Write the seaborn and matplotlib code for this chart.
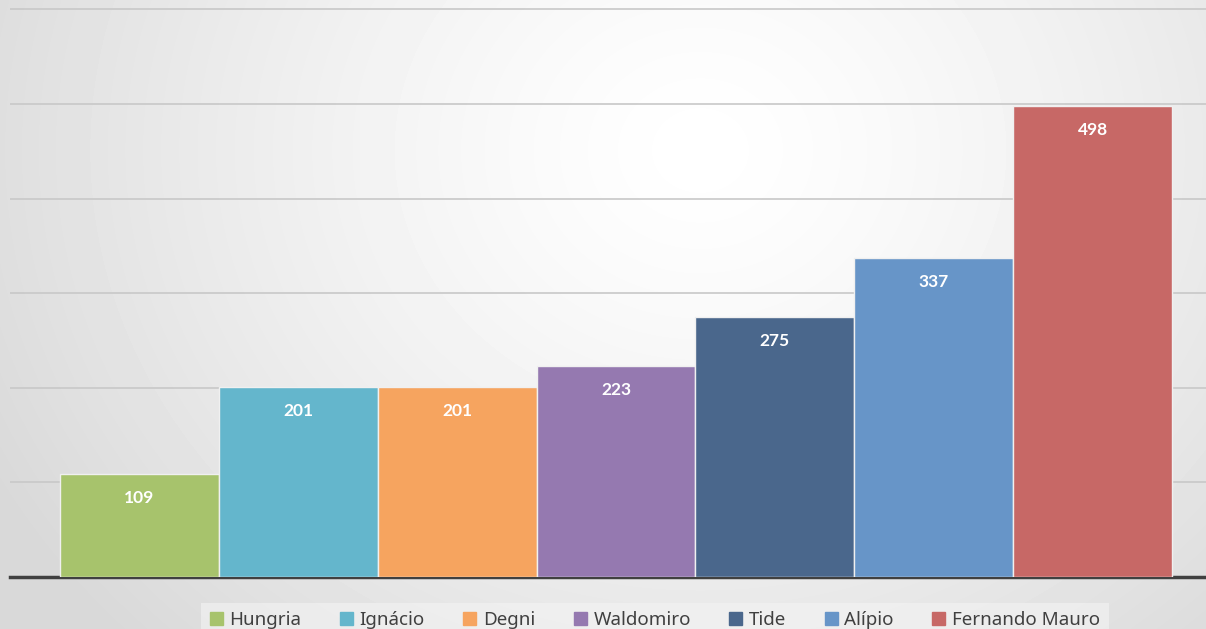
import numpy as np
import pandas as pd
import matplotlib
matplotlib.use("Agg")
import matplotlib.pyplot as plt
import seaborn as sns

names = ["Hungria", "Ignácio", "Degni", "Waldomiro", "Tide", "Alípio", "Fernando Mauro"]
values = [109, 201, 201, 223, 275, 337, 498]
colors = ["#A7C36C", "#64B6CC", "#F6A45F", "#9579B0", "#4A678C", "#6795C8", "#C76866"]

df = pd.DataFrame({"name": names, "value": values})

sns.set_style("white")
plt.rcParams["font.family"] = ["Noto Sans", "DejaVu Sans"]

fig = plt.figure(figsize=(12.06, 6.29), dpi=100)

# soft radial background gradient
bg = fig.add_axes([0, 0, 1, 1], zorder=-10)
yy, xx = np.mgrid[0:629, 0:1206]
r = np.sqrt(((xx - 700) / 800.0) ** 2 + ((yy - 150) / 700.0) ** 2)
shade = np.clip(1.0 - 0.15 * r ** 1.3, 0.85, 1.0)
bg.imshow(shade, cmap="gray", vmin=0, vmax=1, aspect="auto")
bg.axis("off")

ax = fig.add_axes([10 / 1206, 52 / 629, 1 - 10 / 1206, 1 - 52 / 629])
ax.patch.set_alpha(0)

sns.barplot(data=df, x="name", y="value", hue="name", palette=colors,
            saturation=1, width=1.0, dodge=False, legend=False, ax=ax,
            edgecolor="#f0f0f0", linewidth=1.0, zorder=3)

for p, v in zip(ax.patches, values):
    ax.annotate(str(v), (p.get_x() + p.get_width() / 2, p.get_height()),
                xytext=(0, -24), textcoords="offset pixels",
                ha="center", va="center", color="white",
                fontsize=12.5, fontweight="bold", family="Lato", zorder=4)

ax.set_xlim(-0.815, 6.714)
ax.set_ylim(0, 610)
ax.set_yticks([100, 200, 300, 400, 500, 600])
ax.grid(axis="y", color="#c8c8c8", linewidth=1.2, zorder=0)
ax.set_axisbelow(True)
ax.set_xticks([])
ax.tick_params(left=False, labelleft=False)
ax.set_xlabel("")
ax.set_ylabel("")
for s in ["top", "right", "left"]:
    ax.spines[s].set_visible(False)
ax.spines["bottom"].set_color("#404040")
ax.spines["bottom"].set_linewidth(2.5)

handles = [plt.Rectangle((0, 0), 1, 1, color=c) for c in colors]
leg = fig.legend(handles, names, loc="center", bbox_to_anchor=(655 / 1206, 1 - 620 / 629),
                 ncol=7, frameon=True, fontsize=13.5, handlelength=0.7, handleheight=0.7,
                 handletextpad=0.35, columnspacing=2.05, borderpad=0.45, fancybox=False)
leg.get_frame().set_facecolor("#f4f4f4")
leg.get_frame().set_edgecolor("none")
leg.get_frame().set_alpha(0.6)
for t in leg.get_texts():
    t.set_color("#404040")

fig.savefig("out.png", dpi=100)
